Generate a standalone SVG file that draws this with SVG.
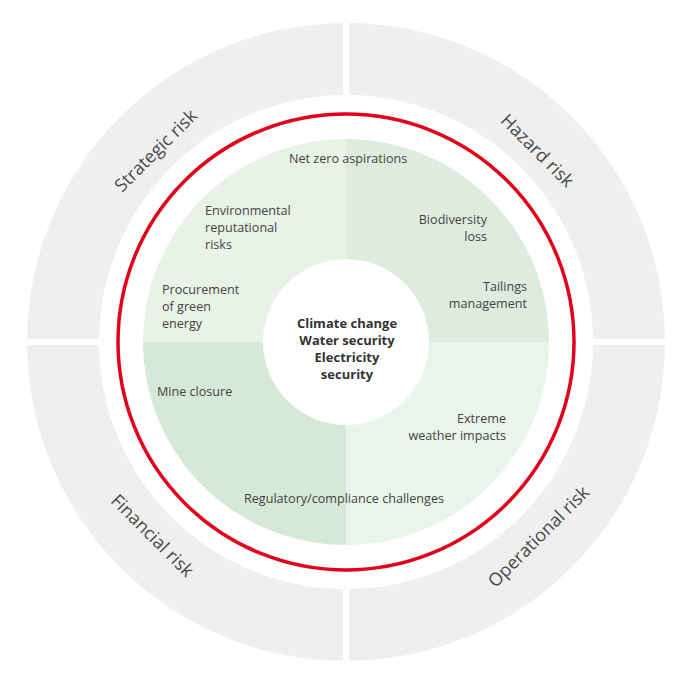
<svg xmlns="http://www.w3.org/2000/svg" width="688" height="684" viewBox="0 0 688 684">
<style>
.ring{fill:none;stroke:#efefef;stroke-width:72}
.lbl{font-family:"Open Sans","Noto Sans",sans-serif;font-size:12.6px;fill:#444}
.rl{font-family:"Open Sans","Noto Sans",sans-serif;font-size:18px;fill:#4a4a4a;text-anchor:middle}
.ctr{font-family:"Open Sans","Noto Sans",sans-serif;font-size:13px;font-weight:bold;fill:#333;text-anchor:middle}
.end{text-anchor:end}
</style>
<rect width="688" height="684" fill="#fff"/>
<g id="outer-ring">
<circle cx="346" cy="342" r="283" class="ring"/>
<rect x="343" y="0" width="6" height="684" fill="#fff"/>
<rect x="0" y="339" width="688" height="6" fill="#fff"/>
</g>
<g id="ring-labels">
<text class="rl" transform="translate(160,155) rotate(-45)">Strategic risk</text>
<text class="rl" transform="translate(533,155) rotate(45)">Hazard risk</text>
<text class="rl" transform="translate(148,540) rotate(45)">Financial risk</text>
<text class="rl" transform="translate(543,541) rotate(-45)">Operational risk</text>
</g>
<g id="red-circle">
<circle cx="346" cy="342" r="228" fill="none" stroke="#e2001a" stroke-width="3.5"/>
</g>
<g id="quadrants">
<path d="M346,342 L143,342 A203,203 0 0 1 346,139 Z" fill="#e8f2e6"/>
<path d="M346,342 L346,139 A203,203 0 0 1 549,342 Z" fill="#deecdf"/>
<path d="M346,342 L346,545 A203,203 0 0 1 143,342 Z" fill="#d6e8d8"/>
<path d="M346,342 L549,342 A203,203 0 0 1 346,545 Z" fill="#e9f4eb"/>
</g>
<g id="items">
<text class="lbl" x="289" y="163">Net zero aspirations</text>
<text class="lbl" x="205" y="215">Environmental<tspan x="205" dy="17">reputational</tspan><tspan x="205" dy="17">risks</tspan></text>
<text class="lbl" x="162" y="294">Procurement<tspan x="162" dy="17">of green</tspan><tspan x="162" dy="17">energy</tspan></text>
<text class="lbl end" x="487" y="224">Biodiversity<tspan x="487" dy="17">loss</tspan></text>
<text class="lbl end" x="527" y="291">Tailings<tspan x="527" dy="17">management</tspan></text>
<text class="lbl" x="157" y="396">Mine closure</text>
<text class="lbl end" x="506" y="423">Extreme<tspan x="506" dy="17">weather impacts</tspan></text>
<text class="lbl" x="244" y="503">Regulatory/compliance challenges</text>
</g>
<g id="center">
<circle cx="346" cy="342" r="83" fill="#fff"/>
<text class="ctr" x="347" y="328">Climate change<tspan x="347" dy="17">Water security</tspan><tspan x="347" dy="17">Electricity</tspan><tspan x="347" dy="17">security</tspan></text>
</g>
</svg>
